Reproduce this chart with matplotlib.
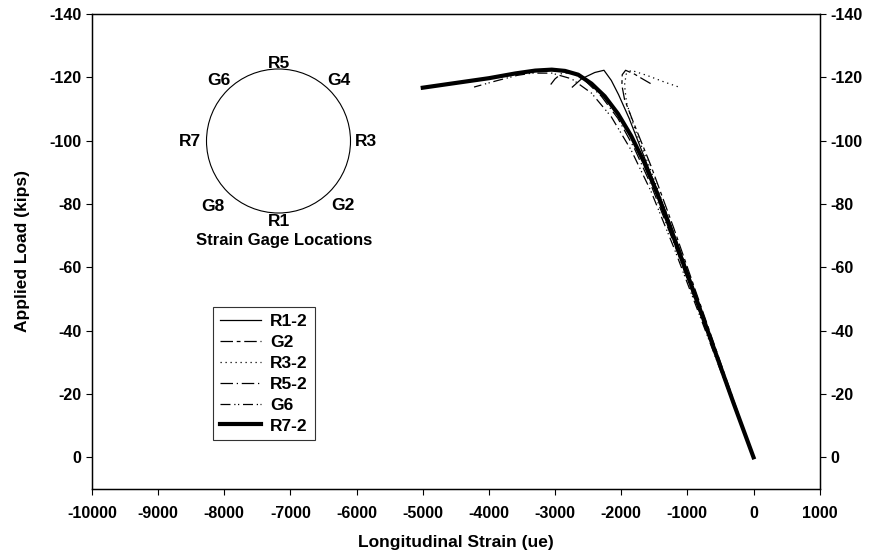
import numpy as np
import matplotlib
matplotlib.use('Agg')
import matplotlib.pyplot as plt
from matplotlib.patches import Circle

plt.rc('font', family='Liberation Sans', weight='bold', size=11.5)
plt.rc('axes', unicode_minus=False)

# strain (ue) / load (kips)
r1_x = [0, -400, -800, -1250, -1600, -1880, -2040, -2150, -2261, -2400, -2600, -2739]
r1_y = [0, -23.5, -47, -73.5, -92, -107, -114.5, -119, -122.2, -121.5, -119.5, -116.9]

g2_x = [0, -400, -800, -1208, -1550, -1820, -1950, -1990, -1985, -1934, -1800, -1680, -1556]
g2_y = [0, -24, -48, -72.5, -92, -106, -113, -117.5, -120.8, -122.2, -121, -119.5, -118]

r3_x = [0, -400, -800, -1220, -1560, -1800, -1920, -1950, -1925, -1850, -1600, -1350, -1128]
r3_y = [0, -23.5, -47, -71.5, -91, -104, -112, -117.5, -121, -122.2, -120.5, -118.5, -116.9]

r5_x = [0, -400, -800, -1200, -1550, -1800, -2050, -2300, -2550, -2750, -2900, -3000, -3066]
r5_y = [0, -22.5, -45, -67.5, -86, -97.5, -107, -114, -119, -121.5, -121.2, -119.5, -117.7]

g6_x = [0, -400, -800, -1200, -1550, -1850, -2150, -2450, -2750, -3050, -3350, -3570, -3900, -4225]
g6_y = [0, -22, -44, -66, -84, -97, -107.5, -115, -119.5, -121.3, -121.3, -120.6, -118.8, -116.9]

r7_x = [0, -300, -600, -900, -1200, -1450, -1650, -1850, -2050, -2250, -2450, -2650,
        -2850, -3050, -3300, -3600, -4000, -4500, -5000]
r7_y = [0, -17, -34.5, -52, -69, -83, -93, -101.5, -108.5, -114, -118, -120.8,
        -122, -122.4, -122.1, -121.2, -119.7, -118.2, -116.7]

gage_names = ['R5', 'G4', 'R3', 'G2', 'R1', 'G8', 'R7', 'G6']
gage_angle = [90, 45, 0, -45, -90, -135, 180, 135]
gage_rad = [1.07, 1.18, 1.22, 1.26, 1.12, 1.28, 1.23, 1.18]

fig = plt.figure(figsize=(8.72, 5.56), dpi=100)
ax = fig.add_axes([0.1055, 0.1205, 0.8345, 0.8545])

ax.plot(r1_x, r1_y, 'k-', lw=0.9, label='R1-2')
ax.plot(g2_x, g2_y, 'k', lw=0.9, dashes=(10, 3, 3, 3), label='G2')
ax.plot(r3_x, r3_y, 'k', lw=0.9, dashes=(1, 3), label='R3-2')
ax.plot(r5_x, r5_y, 'k', lw=0.9, dashes=(10, 3, 1, 3), label='R5-2')
ax.plot(g6_x, g6_y, 'k', lw=0.9, dashes=(8, 3, 1, 2, 1, 3), label='G6')
ax.plot(r7_x, r7_y, 'k-', lw=3, label='R7-2')

ax.set_xlim(-10000, 1000)
ax.set_ylim(10, -140)
ax.set_xticks(np.arange(-10000, 1001, 1000))
ax.set_yticks(np.arange(-140, 1, 20))
ax.tick_params(direction='out', length=4, width=0.8, labelsize=11.5)
ax.tick_params(axis='x', pad=8)
for s in ax.spines.values():
    s.set_linewidth(1.0)

ax2 = ax.twinx()
ax2.set_ylim(10, -140)
ax2.set_yticks(np.arange(-140, 1, 20))
ax2.tick_params(direction='out', length=4, width=0.8, labelsize=11.5)

ax.set_xlabel('Longitudinal Strain (ue)', fontsize=12.5, fontweight='bold', labelpad=10)
ax.set_ylabel('Applied Load (kips)', fontsize=12.5, fontweight='bold', labelpad=14)

leg = ax.legend(loc='upper left', bbox_to_anchor=(0.166, 0.383), borderaxespad=0,
                fancybox=False, edgecolor='#333333', framealpha=1,
                handlelength=2.4, handletextpad=0.5, labelspacing=0.33,
                fontsize=12.5, borderpad=0.4)
leg.get_frame().set_linewidth(0.8)

# strain gage location sketch
ins = fig.add_axes([178.5 / 872, 1 - 241 / 556, 200 / 872, 200 / 556])
ins.set_xlim(-100, 100)
ins.set_ylim(-100, 100)
ins.axis('off')
ins.add_patch(Circle((0, 0), 72, fill=False, ec='black', lw=0.8))
for name, ang, rr in zip(gage_names, gage_angle, gage_rad):
    a = np.deg2rad(ang)
    ins.text(72 * rr * np.cos(a), 72 * rr * np.sin(a), name,
             ha='center', va='center', fontsize=12.5, fontweight='bold')
ins.text(6, -99, 'Strain Gage Locations', ha='center', va='center',
         fontsize=12, fontweight='bold', clip_on=False)

fig.savefig('out.png', dpi=100)
